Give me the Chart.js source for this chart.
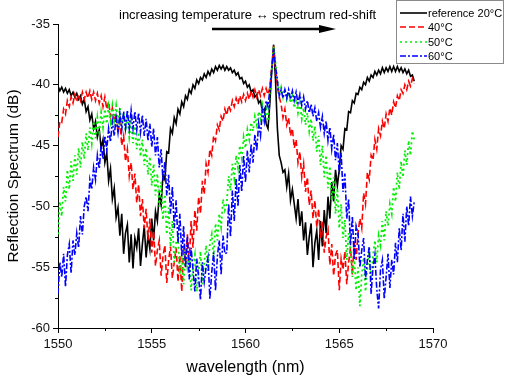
<!DOCTYPE html>
<html>
<head>
<meta charset="utf-8">
<script src="https://cdn.jsdelivr.net/npm/chart.js@4"></script>
<style>
html,body{margin:0;padding:0;background:#fff;}
#wrap{width:505px;height:377px;position:relative;}
</style>
</head>
<body>
<div id="wrap"><canvas id="c" width="505" height="377"></canvas></div>
<script>
// wavelength grid (nm)
const wavelengths = [
1550.0,1550.1,1550.2,1550.3,1550.4,1550.5,1550.6,1550.7,1550.8,1550.9,
1551.0,1551.1,1551.2,1551.3,1551.4,1551.5,1551.6,1551.7,1551.8,1551.9,
1552.0,1552.1,1552.2,1552.3,1552.4,1552.5,1552.6,1552.7,1552.8,1552.9,
1553.0,1553.1,1553.2,1553.3,1553.4,1553.5,1553.6,1553.7,1553.8,1553.9,
1554.0,1554.1,1554.2,1554.3,1554.4,1554.5,1554.6,1554.7,1554.8,1554.9,
1555.0,1555.1,1555.2,1555.3,1555.4,1555.5,1555.6,1555.7,1555.8,1555.9,
1556.0,1556.1,1556.2,1556.3,1556.4,1556.5,1556.6,1556.7,1556.8,1556.9,
1557.0,1557.1,1557.2,1557.3,1557.4,1557.5,1557.6,1557.7,1557.8,1557.9,
1558.0,1558.1,1558.2,1558.3,1558.4,1558.5,1558.6,1558.7,1558.8,1558.9,
1559.0,1559.1,1559.2,1559.3,1559.4,1559.5,1559.6,1559.7,1559.8,1559.9,
1560.0,1560.1,1560.2,1560.3,1560.4,1560.5,1560.6,1560.7,1560.8,1560.9,
1561.0,1561.1,1561.2,1561.3,1561.4,1561.5,1561.6,1561.7,1561.8,1561.9,
1562.0,1562.1,1562.2,1562.3,1562.4,1562.5,1562.6,1562.7,1562.8,1562.9,
1563.0,1563.1,1563.2,1563.3,1563.4,1563.5,1563.6,1563.7,1563.8,1563.9,
1564.0,1564.1,1564.2,1564.3,1564.4,1564.5,1564.6,1564.7,1564.8,1564.9,
1565.0,1565.1,1565.2,1565.3,1565.4,1565.5,1565.6,1565.7,1565.8,1565.9,
1566.0,1566.1,1566.2,1566.3,1566.4,1566.5,1566.6,1566.7,1566.8,1566.9,
1567.0,1567.1,1567.2,1567.3,1567.4,1567.5,1567.6,1567.7,1567.8,1567.9,
1568.0,1568.1,1568.2,1568.3,1568.4,1568.5,1568.6,1568.7,1568.8,1568.9,
1569.0
];

// reflection spectrum (dB), reference 20°C
const ref20 = [
-40.1,-40.5,-40.2,-40.6,-40.3,-40.7,-40.4,-40.9,-40.6,-41.0,
-40.7,-41.2,-40.9,-41.6,-41.2,-42.2,-41.8,-42.9,-42.4,-43.6,
-43.0,-44.3,-43.7,-45.2,-44.5,-46.4,-45.6,-47.9,-46.9,-49.4,
-48.5,-50.9,-50.1,-52.4,-50.6,-53.9,-52.2,-51.5,-54.6,-52.3,
-55.1,-52.6,-53.4,-51.8,-54.9,-53.1,-51.6,-54.2,-52.4,-53.5,
-51.0,-52.8,-50.4,-51.2,-49.0,-49.9,-47.4,-47.8,-45.5,-45.6,
-43.6,-44.0,-42.7,-43.2,-42.0,-42.4,-41.4,-41.8,-40.9,-41.2,
-40.4,-40.7,-40.0,-40.3,-39.6,-39.9,-39.4,-39.6,-39.1,-39.4,
-38.9,-39.2,-38.7,-39.0,-38.5,-38.8,-38.4,-38.7,-38.4,-38.8,
-38.5,-38.8,-38.6,-39.0,-38.8,-39.2,-39.0,-39.5,-39.4,-39.9,
-39.7,-40.2,-40.0,-40.6,-40.4,-41.0,-40.8,-41.5,-41.3,-42.2,
-42.0,-43.2,-43.6,-41.5,-38.8,-36.7,-39.6,-43.6,-45.8,-46.4,
-47.2,-47.0,-48.4,-47.3,-49.5,-48.6,-49.8,-51.0,-49.4,-51.6,
-50.4,-52.8,-51.3,-54.0,-52.5,-51.4,-55.0,-53.0,-52.0,-54.4,
-51.2,-53.3,-50.3,-52.2,-49.2,-51.0,-48.0,-49.6,-47.0,-48.3,
-47.0,-45.0,-45.3,-43.6,-43.7,-42.2,-42.3,-41.3,-41.5,-40.7,
-40.8,-40.2,-40.4,-39.8,-40.0,-39.4,-39.7,-39.2,-39.4,-38.9,
-39.2,-38.8,-39.1,-38.6,-39.0,-38.6,-38.9,-38.5,-38.9,-38.5,
-38.9,-38.5,-38.9,-38.6,-39.0,-38.7,-39.1,-38.8,-39.3,-39.2,
-39.7
];

// 40°C
const t40 = [
-44.3,-43.0,-43.1,-42.0,-42.4,-41.3,-41.8,-41.0,-41.5,-40.8,
-41.4,-40.8,-41.3,-40.6,-41.2,-40.6,-41.1,-40.5,-41.2,-40.6,
-41.3,-40.7,-41.5,-40.9,-41.8,-41.0,-42.0,-41.4,-42.6,-41.9,
-43.1,-42.4,-43.9,-43.0,-45.0,-44.2,-46.3,-45.3,-47.5,-46.4,
-48.6,-47.3,-49.7,-48.2,-50.8,-49.4,-51.8,-50.2,-52.8,-51.0,
-53.8,-52.0,-54.9,-53.6,-52.8,-55.7,-54.1,-53.2,-56.3,-54.4,
-53.3,-55.9,-54.6,-53.4,-56.2,-54.0,-57.0,-53.2,-55.0,-52.3,
-54.5,-51.2,-53.4,-50.3,-52.0,-49.2,-50.6,-47.9,-49.0,-46.5,
-47.2,-45.3,-45.8,-44.2,-44.6,-43.3,-43.7,-42.6,-43.0,-42.0,
-42.5,-41.7,-42.1,-41.3,-41.8,-41.1,-41.6,-40.9,-41.4,-40.8,
-41.3,-40.7,-41.2,-40.5,-41.0,-40.4,-41.0,-40.4,-40.9,-40.3,
-40.9,-40.3,-40.8,-40.2,-38.5,-36.8,-38.6,-40.2,-41.0,-41.6,
-42.7,-42.0,-43.3,-42.7,-44.2,-43.6,-45.2,-44.5,-46.4,-45.5,
-47.6,-46.5,-48.8,-47.6,-49.9,-48.7,-51.0,-49.5,-51.7,-50.2,
-52.6,-51.2,-53.8,-52.5,-51.9,-54.8,-53.1,-55.7,-54.0,-53.6,
-56.9,-54.3,-55.2,-53.7,-56.4,-54.6,-53.4,-55.6,-52.9,-54.4,
-52.2,-51.0,-51.8,-48.9,-49.8,-47.2,-47.8,-45.8,-46.2,-44.5,
-45.3,-43.6,-44.2,-43.0,-43.6,-42.4,-43.0,-41.9,-42.5,-41.4,
-41.9,-40.9,-41.3,-40.4,-40.7,-40.0,-40.4,-39.7,-40.1,-39.5,
-39.9
];

// 50°C
const t50 = [
-52.3,-49.6,-50.8,-48.4,-49.6,-47.0,-48.6,-46.3,-47.9,-45.8,
-47.4,-45.2,-46.8,-44.7,-46.1,-44.0,-45.4,-43.5,-44.8,-43.0,
-44.4,-42.7,-43.9,-42.3,-43.5,-42.0,-43.2,-41.8,-43.0,-41.7,
-42.9,-41.7,-43.0,-41.9,-43.3,-42.3,-43.8,-42.7,-44.3,-43.1,
-44.8,-43.4,-45.3,-43.9,-45.9,-44.5,-46.6,-45.2,-47.4,-45.9,
-48.3,-46.5,-49.1,-47.3,-50.0,-48.0,-51.1,-49.0,-52.3,-50.1,
-53.3,-51.2,-54.6,-53.0,-52.6,-55.6,-54.0,-56.4,-53.5,-55.0,
-53.9,-56.9,-55.0,-54.0,-57.0,-55.3,-53.7,-56.4,-54.6,-53.2,
-55.3,-53.0,-52.3,-54.2,-51.4,-52.8,-50.6,-51.7,-49.4,-50.3,
-49.8,-47.5,-48.7,-46.5,-47.7,-45.8,-46.8,-45.0,-46.0,-44.3,
-45.2,-43.7,-44.5,-43.1,-43.8,-42.6,-43.3,-42.2,-42.8,-41.7,
-42.7,-42.0,-43.0,-40.5,-38.6,-36.8,-38.2,-39.6,-40.8,-40.2,
-41.0,-40.3,-41.2,-40.6,-41.5,-40.9,-41.9,-41.2,-42.3,-41.5,
-42.8,-41.9,-43.3,-42.3,-43.8,-42.8,-44.6,-43.4,-45.5,-44.2,
-46.6,-45.0,-47.6,-45.8,-48.5,-46.7,-49.5,-47.6,-50.6,-48.5,
-51.8,-49.8,-52.6,-51.1,-54.4,-52.2,-53.6,-55.8,-54.2,-56.9,
-55.0,-58.2,-55.6,-54.2,-57.0,-55.1,-53.6,-56.0,-54.1,-52.8,
-54.6,-52.4,-53.2,-51.2,-52.8,-50.4,-51.6,-49.8,-50.6,-48.4,
-49.6,-47.2,-48.6,-46.3,-47.6,-45.4,-46.6,-44.6,-45.8,-43.8,
-44.5
];

// 60°C
const t60 = [
-57.2,-54.6,-55.8,-53.9,-56.6,-54.0,-53.1,-55.5,-52.8,-54.0,
-52.2,-53.4,-50.8,-52.3,-50.0,-49.2,-50.4,-47.8,-48.6,-46.8,
-47.8,-45.8,-46.9,-45.0,-46.1,-44.2,-45.3,-43.6,-44.7,-43.0,
-44.2,-42.7,-43.9,-42.4,-43.7,-42.2,-43.6,-42.1,-43.6,-42.1,
-43.6,-42.2,-43.7,-42.3,-43.9,-42.5,-44.2,-42.8,-44.6,-43.2,
-45.1,-43.6,-45.8,-44.3,-46.8,-45.3,-47.9,-46.3,-49.1,-47.4,
-50.6,-48.4,-51.8,-49.5,-53.0,-50.6,-54.1,-51.6,-55.0,-52.5,
-56.0,-53.4,-55.2,-57.0,-54.3,-55.8,-57.7,-54.6,-56.2,-55.0,
-54.2,-57.6,-55.4,-53.8,-56.9,-54.1,-52.8,-55.6,-52.4,-53.9,
-53.8,-49.8,-52.5,-48.7,-51.2,-47.7,-50.0,-46.6,-48.8,-45.8,
-48.0,-45.4,-47.2,-44.9,-46.4,-44.1,-45.4,-43.2,-44.2,-42.1,
-43.0,-41.3,-41.8,-40.4,-38.8,-37.0,-38.5,-39.7,-40.9,-40.4,
-41.1,-40.4,-41.1,-40.4,-41.2,-40.5,-41.3,-40.6,-41.5,-40.8,
-41.7,-41.0,-42.0,-41.3,-42.3,-41.6,-42.6,-41.9,-43.0,-42.3,
-43.5,-42.6,-44.0,-43.0,-44.6,-43.5,-45.3,-44.1,-46.2,-44.8,
-47.3,-45.6,-48.8,-47.3,-51.0,-49.4,-53.2,-50.8,-54.4,-51.6,
-52.2,-55.0,-53.6,-52.6,-56.0,-54.4,-53.3,-57.2,-55.0,-54.0,
-56.8,-58.4,-55.2,-54.4,-57.6,-55.8,-53.9,-56.7,-54.4,-55.6,
-53.0,-54.6,-51.8,-53.6,-50.6,-52.9,-50.0,-51.6,-49.2,-50.8,
-49.6
];

const seriesLabels = ['reference 20°C', '40°C', '50°C', '60°C'];
const xTicks = [1550, 1555, 1560, 1565, 1570];
const xMinorTicks = [1552.5, 1557.5, 1562.5, 1567.5];
const yTicks = [-60, -55, -50, -45, -40, -35];
const yMinorTicks = [-57.5, -52.5, -47.5, -42.5, -37.5];
const xTitle = 'wavelength (nm)';
const yTitle = 'Reflection Spectrum (dB)';
const annotationText = 'increasing temperature \u2194 spectrum red-shift';

const FONT = '"Liberation Sans", Arial, sans-serif';
const styles = [
  {color:'#000000', dash:[], width:1.6},
  {color:'#ff0000', dash:[6,3], width:1.6},
  {color:'#00ee00', dash:[2,3], width:1.8},
  {color:'#0000ff', dash:[6,2,2,2], width:1.6}
];
const allSeries = [ref20, t40, t50, t60];

const datasets = allSeries.map((s, k) => ({
  label: seriesLabels[k],
  data: wavelengths.map((w, i) => ({x: w, y: s[i]})),
  borderColor: styles[k].color,
  borderDash: styles[k].dash,
  borderWidth: styles[k].width,
  pointRadius: 0,
  tension: 0,
  fill: false,
  order: 4 - k
}));

const extras = {
  id: 'extras',
  afterDraw(chart) {
    const ctx = chart.ctx;
    const xs = chart.scales.x, ys = chart.scales.y;
    const area = chart.chartArea;
    ctx.save();
    // minor ticks
    ctx.strokeStyle = '#000';
    ctx.lineWidth = 1;
    ctx.beginPath();
    xMinorTicks.forEach(v => {
      const p = Math.round(xs.getPixelForValue(v)) + 0.5;
      ctx.moveTo(p, area.bottom); ctx.lineTo(p, area.bottom + 3);
    });
    yMinorTicks.forEach(v => {
      const p = Math.round(ys.getPixelForValue(v)) + 0.5;
      ctx.moveTo(area.left - 3, p); ctx.lineTo(area.left, p);
    });
    ctx.stroke();

    // annotation text and arrow
    ctx.fillStyle = '#000';
    ctx.font = '13px ' + FONT;
    ctx.textBaseline = 'middle';
    ctx.textAlign = 'left';
    ctx.fillText(annotationText, 119, 15);
    ctx.lineWidth = 2.5;
    ctx.beginPath();
    ctx.moveTo(212, 29); ctx.lineTo(322, 29);
    ctx.stroke();
    ctx.beginPath();
    ctx.moveTo(319, 25); ctx.lineTo(336, 29); ctx.lineTo(319, 33); ctx.closePath();
    ctx.fill();

    // legend
    const lx = 396.5, ly = 0.5, lw = 107, lh = 63;
    ctx.fillStyle = '#fff';
    ctx.fillRect(lx, ly, lw, lh);
    ctx.strokeStyle = '#8a8a8a';
    ctx.lineWidth = 1;
    ctx.strokeRect(lx, ly, lw, lh);
    const rows = [13, 27, 42, 56];
    ctx.font = '11px ' + FONT;
    seriesLabels.forEach((lab, k) => {
      ctx.strokeStyle = styles[k].color;
      ctx.lineWidth = 1.6;
      ctx.setLineDash(styles[k].dash);
      ctx.beginPath();
      ctx.moveTo(400, rows[k]); ctx.lineTo(427, rows[k]);
      ctx.stroke();
      ctx.setLineDash([]);
      ctx.fillStyle = '#000';
      ctx.fillText(lab, 428, rows[k] + 0.5);
    });
    ctx.restore();
  }
};

new Chart(document.getElementById('c'), {
  type: 'line',
  data: { datasets },
  options: {
    responsive: false,
    animation: false,
    parsing: false,
    normalized: true,
    layout: { padding: { top: 24, right: 72, left: 0, bottom: 0 } },
    plugins: { legend: { display: false }, tooltip: { enabled: false } },
    scales: {
      x: {
        type: 'linear', min: 1550, max: 1570, position: 'bottom',
        afterBuildTicks: s => { s.ticks = xTicks.map(v => ({value: v})); },
        afterFit: s => { s.height = 49; },
        grid: { drawOnChartArea: false, drawTicks: true, tickLength: 5, tickColor: '#000', tickWidth: 1 },
        border: { display: true, color: '#000', width: 1 },
        ticks: { color: '#111', font: { family: FONT, size: 13 }, padding: 4, maxRotation: 0, autoSkip: false,
                 callback: v => String(v) },
        title: { display: true, text: xTitle, color: '#000', font: { family: FONT, size: 16 }, padding: { top: 0, bottom: 0 } }
      },
      y: {
        type: 'linear', min: -60, max: -35,
        afterBuildTicks: s => { s.ticks = yTicks.map(v => ({value: v})); },
        afterFit: s => { s.width = 58; },
        grid: { drawOnChartArea: false, drawTicks: true, tickLength: 5, tickColor: '#000', tickWidth: 1 },
        border: { display: true, color: '#000', width: 1 },
        ticks: { color: '#111', font: { family: FONT, size: 13 }, padding: 3, autoSkip: false,
                 callback: v => String(v) },
        title: { display: true, text: yTitle, color: '#000', font: { family: FONT, size: 15.5 }, padding: { top: 4, bottom: 0 } }
      }
    }
  },
  plugins: [extras]
});
</script>
</body>
</html>
